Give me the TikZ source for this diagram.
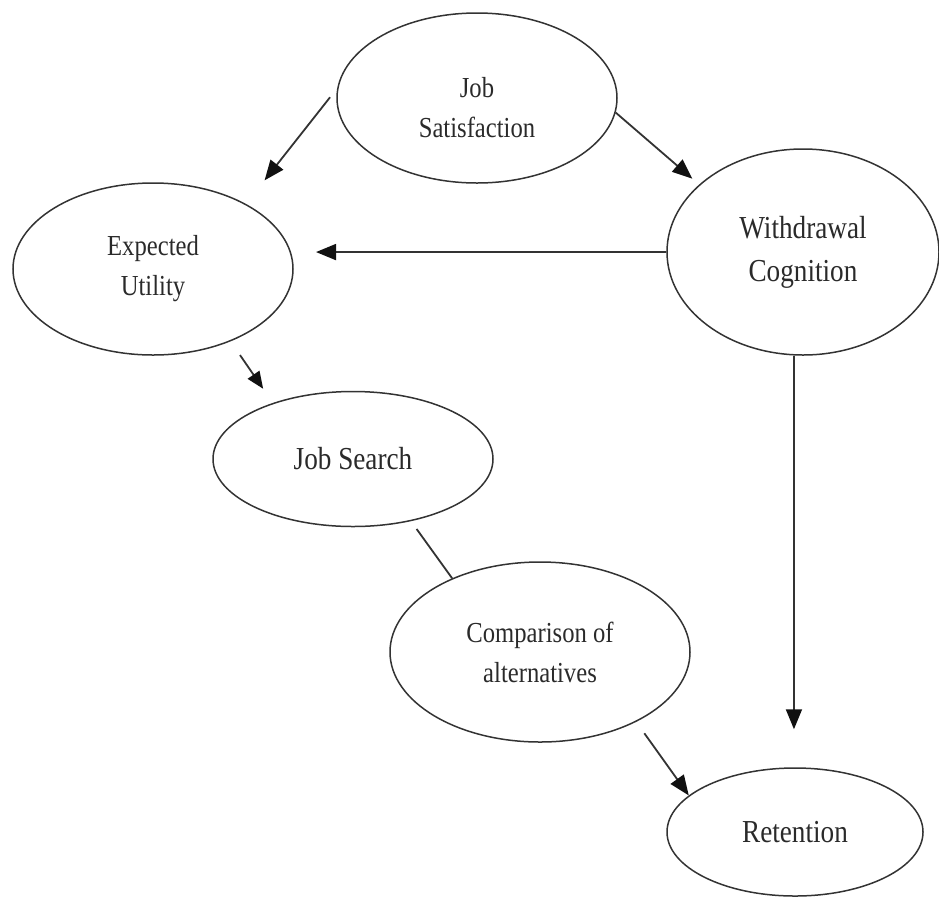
\documentclass[tikz,border=0pt]{standalone}
\usepackage{fontspec}
\setmainfont{Liberation Serif}[FakeStretch=0.85]
\usetikzlibrary{shapes.geometric,arrows.meta}

\definecolor{linec}{HTML}{333333}
\definecolor{textc}{HTML}{2A2A2A}
\definecolor{tipc}{HTML}{111111}

\begin{document}
\begin{tikzpicture}[
  x=1pt, y=-1pt,
  ell/.style={ellipse, draw=linec, line width=1.5pt, inner sep=0pt,
              align=center, text=textc},
  smalltext/.style={font=\fontsize{29}{40}\selectfont},
  bigtext/.style={font=\fontsize{32}{43}\selectfont},
  link/.style={draw=linec, line width=1.8pt},
  arr/.style={link, -{Triangle[length=20pt,width=16pt,color=tipc]}},
  arrsm/.style={link, -{Triangle[length=17pt,width=14pt,color=tipc]}}
]
\useasboundingbox (0,0) rectangle (939,903);

% concepts
\node[ell, minimum width=280pt, minimum height=170pt,
      label={[smalltext, align=center, text=textc, yshift=-10pt]center:Job\\Satisfaction}]
      (js) at (477,98) {};
\node[ell, bigtext, minimum width=272pt, minimum height=206pt]
      (wc) at (803,252) {Withdrawal\\Cognition};
\node[ell, smalltext, minimum width=280pt, minimum height=172pt]
      (eu) at (153,269) {Expected\\Utility};
\node[ell, bigtext, minimum width=280pt, minimum height=135pt]
      (jsr) at (353,459) {Job Search};
\node[ell, smalltext, minimum width=300pt, minimum height=180pt]
      (cmp) at (540,652) {Comparison of\\alternatives};
\node[ell, bigtext, minimum width=256pt, minimum height=128pt]
      (ret) at (795,832) {Retention};

% relations
\draw[arr, shorten <=11.5pt, shorten >=30pt] (js.176.7) -- (eu.35.2);
\draw[arr, shorten >=9pt] (js.-6.2) -- (wc.147.6);
\draw[arr, shorten >=25pt] (wc.180) -- (eu.7.06);
\draw[arrsm, shorten <=16.6pt, shorten >=17.2pt] (eu.-43.9) -- (jsr.145.5);
\draw[link, shorten <=9.6pt] (jsr.-47.4) -- (cmp.140.1);
\draw[arr, shorten <=14pt] (cmp.-36.4) -- (ret.161.2);
\draw[arr, shorten >=38pt] (wc.265) -- (wc.265 |- ret.north);
\end{tikzpicture}
\end{document}
